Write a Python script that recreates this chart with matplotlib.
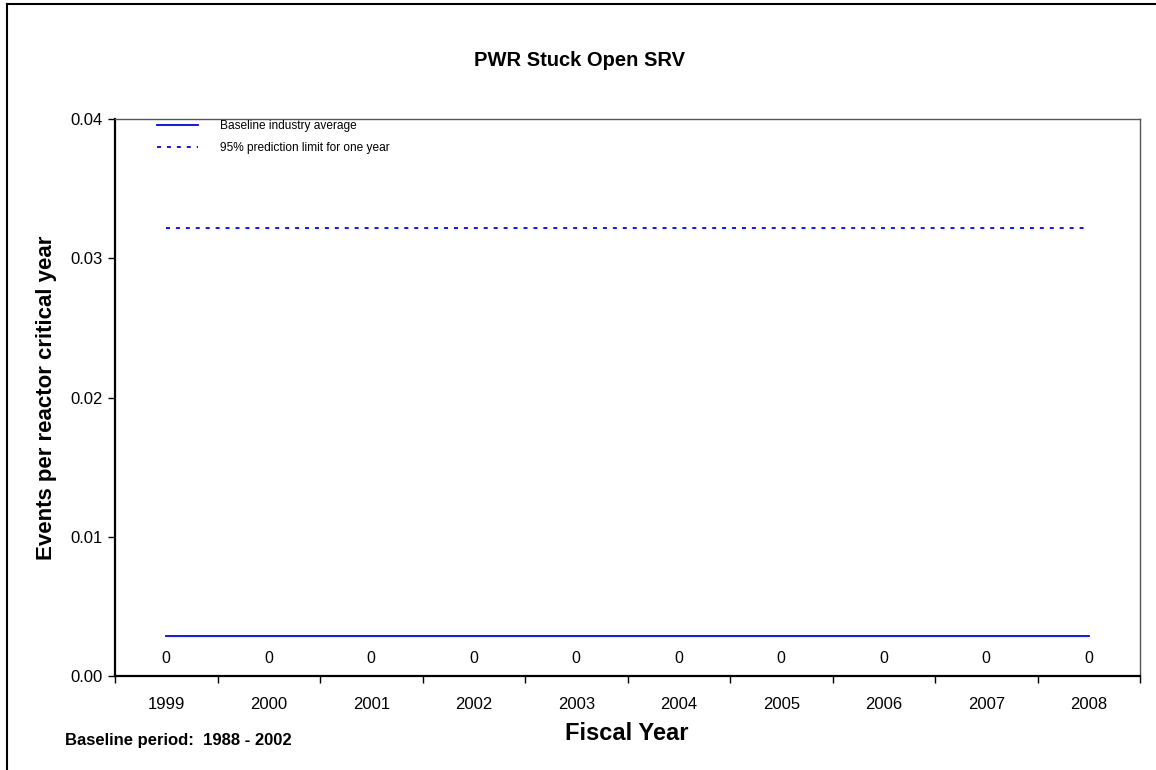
import numpy as np
from matplotlib import pyplot as plt
from matplotlib.lines import Line2D

plt.rcParams['font.family'] = ['Liberation Sans', 'DejaVu Sans']

years = ["1999", "2000", "2001", "2002", "2003", "2004", "2005", "2006", "2007", "2008"]
event_rates = [0, 0, 0, 0, 0, 0, 0, 0, 0, 0]
baseline_avg = 0.0029
prediction_limit = 0.0322

fig = plt.figure(figsize=(11.56, 7.70), dpi=100)
W, H = 1156, 770
ax = fig.add_axes([115 / W, 1 - 676 / H, (1140 - 115) / W, (676 - 119) / H])

x = np.arange(len(years))

ax.plot(x, [baseline_avg] * len(years), color="#0000ff", lw=1.3,
        label="Baseline industry average")
ax.plot(x, [prediction_limit] * len(years), color="#0000ff", lw=1.3,
        dashes=(2.2, 3.3), label="95% prediction limit for one year")

# rate values for each fiscal year, labelled above the axis
ax.plot(x, event_rates, color="none")
for xi, v in zip(x, event_rates):
    ax.annotate(str(v), (xi, v), xytext=(0, 12.5), textcoords="offset points",
                ha="center", va="center", fontsize=11.5)

ax.set_xlim(-0.5, len(years) - 0.5)
ax.set_ylim(0, 0.04)
ax.set_yticks([0, 0.01, 0.02, 0.03, 0.04])
ax.set_yticklabels(["0.00", "0.01", "0.02", "0.03", "0.04"], fontsize=12)

# year labels centred on categories, tick marks on category boundaries
ax.set_xticks(x)
ax.set_xticklabels(years, fontsize=12)
ax.tick_params(axis="x", which="major", length=0, pad=15)
ax.set_xticks(np.arange(-0.5, len(years)), minor=True)
ax.tick_params(axis="x", which="minor", length=5, width=1, direction="out")
ax.tick_params(axis="y", length=5, width=1, direction="out", pad=4)

for side in ["left", "bottom"]:
    ax.spines[side].set_linewidth(1.6)
    ax.spines[side].set_color("black")
for side in ["top", "right"]:
    ax.spines[side].set_linewidth(1.0)
    ax.spines[side].set_color("#555555")

ax.legend(loc="upper left", bbox_to_anchor=(157 / W, 1 - 120 / H),
          bbox_transform=fig.transFigure, borderpad=0, borderaxespad=0,
          frameon=False, fontsize=8.6, handlelength=3.4, handletextpad=1.9,
          labelspacing=0.82)

fig.text(627 / W, 1 - 733 / H, "Fiscal Year", ha="center", va="center",
         fontsize=17, fontweight="bold")
fig.text(47 / W, 1 - 398 / H, "Events per reactor critical year", ha="center",
         va="center", rotation=90, fontsize=16, fontweight="bold")

fig.text(580 / W, 1 - 60 / H, "PWR Stuck Open SRV", ha="center", va="center",
         fontsize=14.5, fontweight="bold")
fig.text(65 / W, 1 - 740 / H, "Baseline period:  1988 - 2002", ha="left", va="center",
         fontsize=12, fontweight="bold")

# outer frame on left and top
fig.add_artist(Line2D([7 / W, 7 / W], [0, 1 - 4 / H], color="black", lw=1.5))
fig.add_artist(Line2D([7 / W, 1], [1 - 4 / H, 1 - 4 / H], color="black", lw=1.5))

plt.savefig("out.png", dpi=100)
